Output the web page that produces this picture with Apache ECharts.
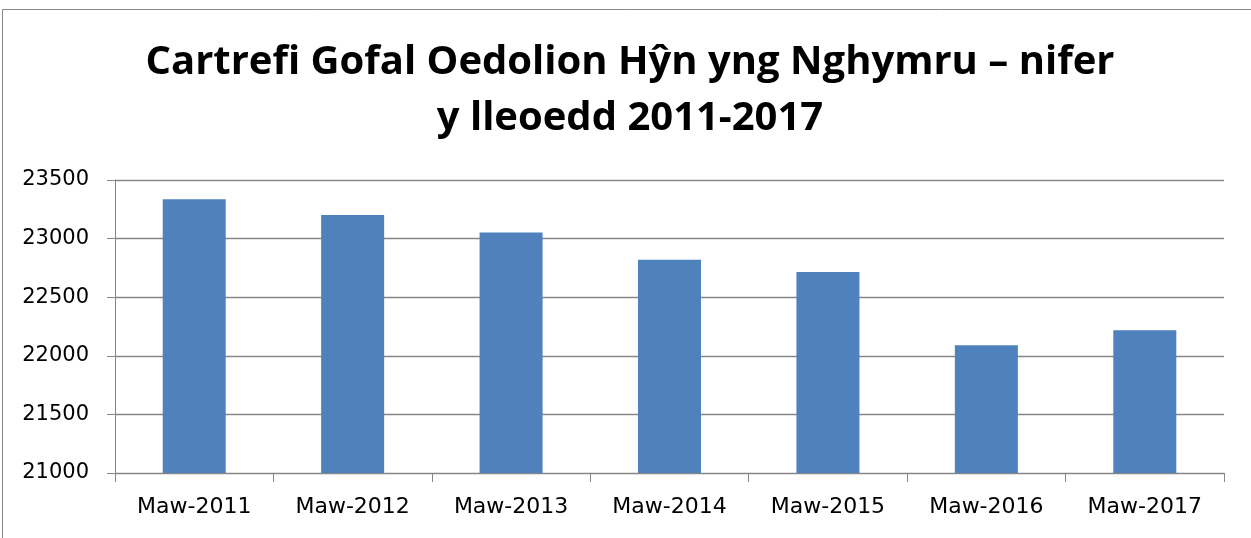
<!DOCTYPE html>
<html>
<head>
<meta charset="utf-8">
<script src="https://cdn.jsdelivr.net/npm/echarts@6/dist/echarts.min.js"></script>
<style>
  html, body { margin: 0; padding: 0; background: #fff; }
  #chart { width: 1251px; height: 538px; }
</style>
</head>
<body>
<div id="chart"></div>
<script>
// data
const categories = ['Maw-2011', 'Maw-2012', 'Maw-2013', 'Maw-2014', 'Maw-2015', 'Maw-2016', 'Maw-2017'];
const places = [23336, 23201, 23051, 22820, 22715, 22089, 22217];
const titleLines = ['Cartrefi Gofal Oedolion Hŷn yng Nghymru – nifer', 'y lleoedd 2011-2017'];

const chart = echarts.init(document.getElementById('chart'));

const option = {
  animation: false,
  backgroundColor: '#fff',
  title: {
    text: titleLines.join('\n'),
    left: 625,
    textAlign: 'center',
    top: 30,
    textStyle: {
      fontFamily: 'Open Sans',
      fontWeight: 'bold',
      fontSize: 40,
      lineHeight: 56,
      color: '#000'
    }
  },
  graphic: [
    {
      type: 'rect',
      shape: { x: 2.5, y: 9.5, width: 1270, height: 560 },
      style: { fill: 'none', stroke: '#878787', lineWidth: 1 },
      silent: true
    }
  ],
  grid: {
    left: 115,
    right: 27,
    top: 180,
    bottom: 65,
    containLabel: false
  },
  xAxis: {
    type: 'category',
    data: categories,
    axisLine: { lineStyle: { color: '#868686', width: 1 } },
    axisTick: { show: true, length: 9, alignWithLabel: false, lineStyle: { color: '#868686' } },
    axisLabel: {
      margin: 23,
      fontFamily: 'DejaVu Sans',
      fontSize: 22,
      color: '#000'
    }
  },
  yAxis: {
    type: 'value',
    min: 21000,
    max: 23500,
    interval: 500,
    axisLine: { show: true, lineStyle: { color: '#868686', width: 1 } },
    axisTick: { show: true, length: 8, lineStyle: { color: '#868686' } },
    splitLine: { lineStyle: { color: '#868686', width: 1.3 } },
    axisLabel: {
      margin: 26,
      fontFamily: 'DejaVu Sans',
      fontSize: 21,
      color: '#000',
      formatter: (v) => String(v)
    }
  },
  series: [
    {
      type: 'bar',
      data: places,
      barWidth: 63,
      itemStyle: { color: '#4F81BD' }
    }
  ]
};

chart.setOption(option);
</script>
</body>
</html>
